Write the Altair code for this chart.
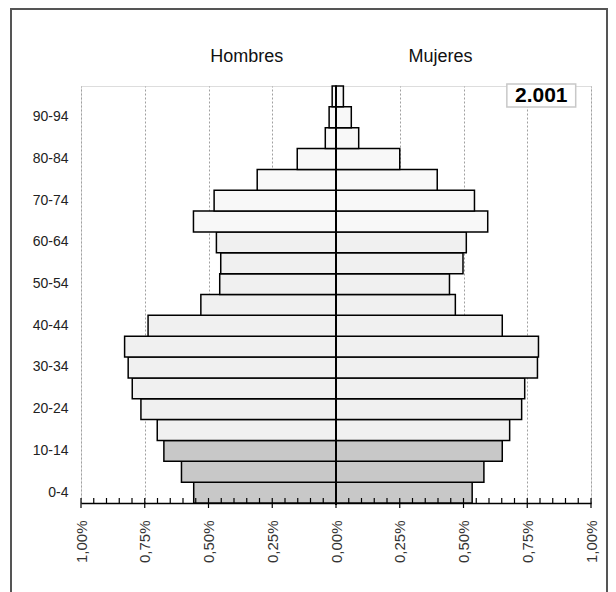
import altair as alt
import pandas as pd

# ---- data (percent of total population, 2001) ----
edades = ["0-4", "5-9", "10-14", "15-19", "20-24", "25-29", "30-34", "35-39",
          "40-44", "45-49", "50-54", "55-59", "60-64", "65-69", "70-74",
          "75-79", "80-84", "85-89", "90-94", "95-99"]
hombres = [0.558, 0.606, 0.675, 0.701, 0.765, 0.799, 0.815, 0.829, 0.737, 0.530,
           0.456, 0.452, 0.469, 0.559, 0.478, 0.309, 0.152, 0.042, 0.027, 0.015]
mujeres = [0.534, 0.580, 0.652, 0.681, 0.728, 0.740, 0.790, 0.794, 0.652, 0.468,
           0.445, 0.498, 0.511, 0.595, 0.543, 0.397, 0.250, 0.089, 0.060, 0.029]
etiquetas_y = ["0-4", "10-14", "20-24", "30-34", "40-44", "50-54", "60-64",
               "70-74", "80-84", "90-94"]
anio = "2.001"
titulos = ["Hombres", "Mujeres"]

FONT = "Liberation Sans"
W, H = 510, 417


def grupo(i):
    if i < 3:
        return "joven"
    if i < 13:
        return "adulto"
    return "mayor"


rows = []
for i, e in enumerate(edades):
    rows.append({"edad": e, "sexo": "Hombres", "valor": -hombres[i], "grupo": grupo(i)})
    rows.append({"edad": e, "sexo": "Mujeres", "valor": mujeres[i], "grupo": grupo(i)})
df = pd.DataFrame(rows)

xscale = alt.Scale(domain=[-1, 1], nice=False, zero=False)
yscale = alt.Scale(domain=list(reversed(edades)), paddingInner=0, paddingOuter=0)

base_x = alt.X(
    "valor:Q", scale=xscale, title=None,
    axis=alt.Axis(
        values=[-1, -0.75, -0.5, -0.25, 0, 0.25, 0.5, 0.75, 1],
        labelExpr="replace(format(abs(datum.value), '.2f'), '.', ',') + '%'",
        labelAngle=270, labelFont=FONT, labelFontSize=15, labelColor="#333",
        labelPadding=17, ticks=False, domain=True, domainColor="#000",
        domainWidth=1.5, grid=True, gridColor="#a0a0a0", gridDash=[2, 2],
        gridWidth=1,
    ),
)

bars = alt.Chart(df).mark_bar(stroke="#000", strokeWidth=1.5).encode(
    x=base_x,
    y=alt.Y("edad:N", scale=yscale, sort=None, title=None,
            axis=alt.Axis(values=etiquetas_y, ticks=False, domain=False,
                          labelFont=FONT, labelFontSize=14, labelColor="#222",
                          labelPadding=13, grid=False)),
    fill=alt.Fill("grupo:N", legend=None,
                  scale=alt.Scale(domain=["joven", "adulto", "mayor"],
                                  range=["#c8c8c8", "#f0f0f0", "#f8f8f8"])),
)

# center line
center = alt.Chart(pd.DataFrame({"v": [0]})).mark_rule(color="#000", strokeWidth=2).encode(
    x=alt.X("v:Q", scale=xscale), y=alt.value(0), y2=alt.value(H + 2)
)

# axis ticks (major crossing, minor inside)
tick_vals = [round(-1 + 0.05 * k, 2) for k in range(41)]
ticks_df = pd.DataFrame({"t": tick_vals,
                         "major": [abs(round(t / 0.25) * 0.25 - t) < 1e-9 for t in tick_vals]})
major = alt.Chart(ticks_df[ticks_df.major]).mark_rule(color="#000", strokeWidth=1.2).encode(
    x=alt.X("t:Q", scale=xscale), y=alt.value(H - 5), y2=alt.value(H + 5)
)
minor = alt.Chart(ticks_df[~ticks_df.major]).mark_rule(color="#000", strokeWidth=1.2).encode(
    x=alt.X("t:Q", scale=xscale), y=alt.value(H - 5), y2=alt.value(H)
)

# titles
tit = alt.Chart(pd.DataFrame({"t": titulos, "x": [-0.35, 0.41]})).mark_text(
    font=FONT, fontSize=18, color="#111", baseline="middle", align="center"
).encode(x=alt.X("x:Q", scale=xscale), y=alt.value(-29), text="t:N")

# year box
box = alt.Chart(pd.DataFrame({"a": [0.67], "b": [0.94]})).mark_rect(
    fill="#fff", stroke="#c8c8c8", strokeWidth=1.5
).encode(x=alt.X("a:Q", scale=xscale), x2="b:Q", y=alt.value(-2), y2=alt.value(21))
year = alt.Chart(pd.DataFrame({"t": [anio], "x": [0.805]})).mark_text(
    font=FONT, fontSize=21, fontWeight="bold", color="#000", baseline="middle", align="center"
).encode(x=alt.X("x:Q", scale=xscale), y=alt.value(10), text="t:N")

# outer frame
frame = alt.Chart(pd.DataFrame({"v": [0]})).mark_rect(
    fill=None, stroke="#555", strokeWidth=2
).encode(x=alt.value(-70), x2=alt.value(526), y=alt.value(-77), y2=alt.value(530))

chart = alt.layer(frame, bars, center, major, minor, tit, box, year).properties(
    width=W, height=H,
    autosize=alt.AutoSizeParams(type="none"),
    padding={"left": 73, "top": 78, "right": 17, "bottom": 89},
).configure_view(stroke=None).configure(background="#ffffff")

chart.save("out.html", embed_options={"renderer": "svg", "actions": False})
